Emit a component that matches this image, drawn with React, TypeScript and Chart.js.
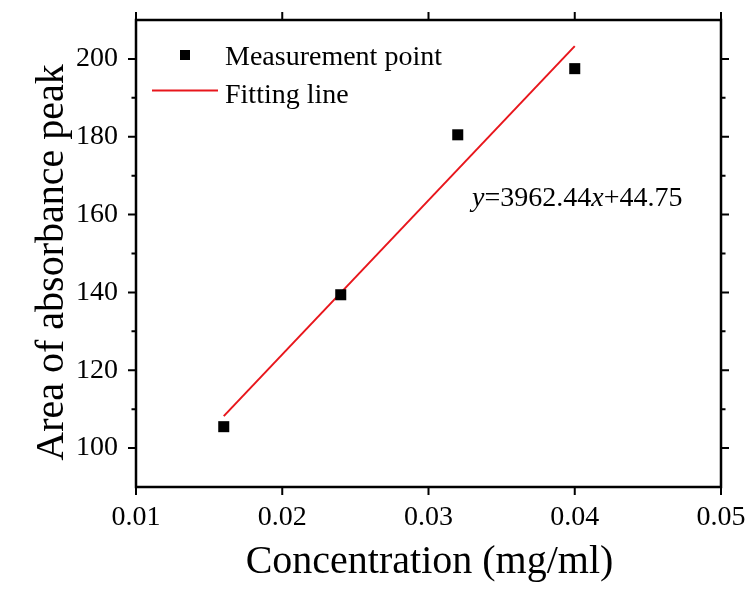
import React, { useEffect, useRef } from 'react';
import { Chart, registerables } from 'chart.js';

Chart.register(...registerables);

const concentration = [0.016, 0.024, 0.032, 0.04];
const peakArea = [105.5, 139.4, 180.5, 197.5];
const fitX = [0.016, 0.04];
const fitY = [108.2, 203.3];
const xTicks = [0.01, 0.02, 0.03, 0.04, 0.05];
const xTickLabels = ['0.01', '0.02', '0.03', '0.04', '0.05'];
const yTicks = [100, 120, 140, 160, 180, 200];
const yMinorTicks = [110, 130, 150, 170, 190];
const xRange = [0.01, 0.05];
const yRange = [90, 210];
const xTitle = 'Concentration (mg/ml)';
const yTitle = 'Area of absorbance peak';
const legendLabels = ['Measurement point', 'Fitting line'];
const equationParts = [
  { text: 'y', italic: true },
  { text: '=3962.44', italic: false },
  { text: 'x', italic: true },
  { text: '+44.75', italic: false },
];

const FONT = "'Liberation Serif', 'Times New Roman', Times, serif";
const RED = '#e8161c';

const framePlugin = {
  id: 'frame',
  afterDraw(chart: any) {
    const { ctx, chartArea } = chart;
    const xs = chart.scales.x;
    const ys = chart.scales.y;
    const { left, right, top, bottom } = chartArea;
    ctx.save();
    ctx.strokeStyle = '#000';
    ctx.lineWidth = 2.5;
    ctx.lineCap = 'butt';
    ctx.strokeRect(left, top, right - left, bottom - top);
    ctx.lineWidth = 2;
    const major = 8;
    const minor = 4.5;
    ctx.beginPath();
    xTicks.forEach((v) => {
      const px = xs.getPixelForValue(v);
      ctx.moveTo(px, bottom);
      ctx.lineTo(px, bottom + major);
      ctx.moveTo(px, top);
      ctx.lineTo(px, top - major);
    });
    yTicks.forEach((v) => {
      const py = ys.getPixelForValue(v);
      ctx.moveTo(left, py);
      ctx.lineTo(left - major, py);
      ctx.moveTo(right, py);
      ctx.lineTo(right + major, py);
    });
    yMinorTicks.forEach((v) => {
      const py = ys.getPixelForValue(v);
      ctx.moveTo(left, py);
      ctx.lineTo(left - minor, py);
      ctx.moveTo(right, py);
      ctx.lineTo(right + minor, py);
    });
    ctx.stroke();

    // axis titles
    ctx.fillStyle = '#000';
    ctx.font = `40px ${FONT}`;
    ctx.textAlign = 'center';
    ctx.textBaseline = 'alphabetic';
    ctx.fillText(xTitle, (left + right) / 2 + 1, 573);
    ctx.save();
    ctx.translate(63, (top + bottom) / 2 + 9);
    ctx.rotate(-Math.PI / 2);
    ctx.fillText(yTitle, 0, 0);
    ctx.restore();

    // legend
    ctx.font = `28px ${FONT}`;
    ctx.textAlign = 'left';
    ctx.fillRect(180, 50, 10, 10);
    ctx.fillText(legendLabels[0], 225, 65);
    ctx.strokeStyle = RED;
    ctx.lineWidth = 2;
    ctx.beginPath();
    ctx.moveTo(152, 90.5);
    ctx.lineTo(218, 90.5);
    ctx.stroke();
    ctx.fillText(legendLabels[1], 225, 102.5);

    // equation
    let x = 472;
    equationParts.forEach((p) => {
      ctx.font = `${p.italic ? 'italic ' : ''}28px ${FONT}`;
      ctx.fillText(p.text, x, 206);
      x += ctx.measureText(p.text).width;
    });
    ctx.restore();
  },
};

export default function App() {
  const ref = useRef<HTMLCanvasElement>(null);
  useEffect(() => {
    if (!ref.current) return;
    const chart = new Chart(ref.current, {
      type: 'scatter',
      data: {
        datasets: [
          {
            label: legendLabels[0],
            data: concentration.map((c, i) => ({ x: c, y: peakArea[i] })),
            pointStyle: 'rect',
            pointRadius: 7.8,
            pointHoverRadius: 7.8,
            backgroundColor: '#000',
            borderColor: '#000',
            borderWidth: 0,
          },
          {
            label: legendLabels[1],
            data: fitX.map((c, i) => ({ x: c, y: fitY[i] })),
            showLine: true,
            pointRadius: 0,
            borderColor: RED,
            borderWidth: 2,
            backgroundColor: RED,
          },
        ],
      },
      options: {
        responsive: false,
        animation: false,
        devicePixelRatio: 1,
        layout: { autoPadding: false, padding: { top: 20, right: 34, left: 0, bottom: 0 } },
        plugins: { legend: { display: false }, tooltip: { enabled: false } },
        events: [],
        scales: {
          x: {
            type: 'linear',
            min: xRange[0],
            max: xRange[1],
            afterBuildTicks: (s: any) => {
              s.ticks = xTicks.map((v) => ({ value: v }));
            },
            afterFit: (s: any) => {
              s.height = 117;
              s.paddingLeft = 0;
              s.paddingRight = 0;
            },
            grid: { display: false, drawTicks: true, tickLength: 8 },
            border: { display: false },
            ticks: {
              padding: 6,
              color: '#000',
              font: { family: FONT, size: 28 },
              callback: (v: any) => {
                const i = xTicks.findIndex((t) => Math.abs(t - v) < 1e-9);
                return i >= 0 ? xTickLabels[i] : '';
              },
            },
          },
          y: {
            type: 'linear',
            min: yRange[0],
            max: yRange[1],
            afterBuildTicks: (s: any) => {
              s.ticks = yTicks.map((v) => ({ value: v }));
            },
            afterFit: (s: any) => {
              s.width = 136;
              s.paddingTop = 0;
              s.paddingBottom = 0;
            },
            grid: { display: false, drawTicks: true, tickLength: 8 },
            border: { display: false },
            ticks: {
              padding: 10,
              color: '#000',
              font: { family: FONT, size: 28 },
              callback: (v: any) => String(v),
            },
          },
        },
      },
      plugins: [framePlugin],
    });
    return () => chart.destroy();
  }, []);
  return (
    <div style={{ position: 'absolute', left: 0, top: 0, width: 755, height: 604, background: '#fff' }}>
      <canvas ref={ref} width={755} height={604} style={{ width: 755, height: 604 }} />
    </div>
  );
}
